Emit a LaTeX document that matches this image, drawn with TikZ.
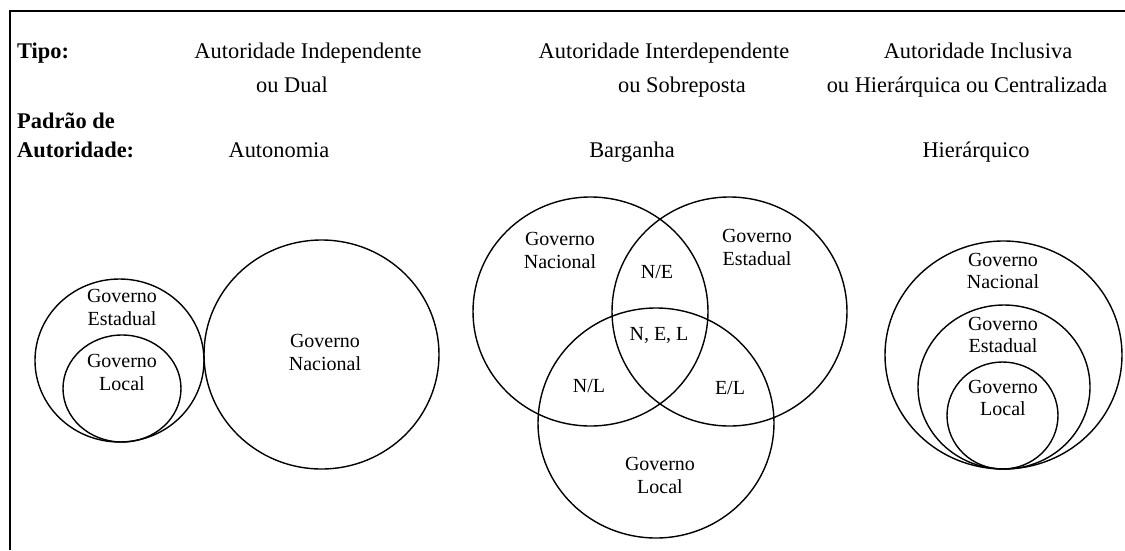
\documentclass[tikz,border=0pt]{standalone}
\usepackage{fontspec}
\setmainfont{Liberation Serif}
\begin{document}
\begin{tikzpicture}[x=1pt,y=-1pt,
  hdr/.style={font=\fontsize{22.4}{26}\selectfont, inner sep=0pt, anchor=base},
  hdrb/.style={font=\fontsize{22.4}{26}\selectfont\bfseries, inner sep=0pt, anchor=base west},
  lbl/.style={font=\fontsize{20}{23}\selectfont, inner sep=0pt, anchor=base},
  ring/.style={draw, line width=1.4pt},
  frame/.style={draw, line width=1.4pt}]
\useasboundingbox (0,0) rectangle (1125,550);
\draw[frame] (10,550) -- (10,11) -- (1125,11);

% headers
\node[hdrb] (tipo) at (17,58) {Tipo:};
\node[hdrb] (padrao) at (17,128) {Padrão de};
\node[hdrb] (autoridade) at (17,157) {Autoridade:};

\node[hdr] (t1a) at (308,58) {Autoridade Independente};
\node[hdr] (t1b) at (292,92) {ou Dual};
\node[hdr] (p1) at (279,157) {Autonomia};

\node[hdr] (t2a) at (664,58) {Autoridade Interdependente};
\node[hdr] (t2b) at (682,92) {ou Sobreposta};
\node[hdr] (p2) at (632,157) {Barganha};

\node[hdr] (t3a) at (978,58) {Autoridade Inclusiva};
\node[hdr] (t3b) at (967,92) {ou Hierárquica ou Centralizada};
\node[hdr] (p3) at (976,157) {Hierárquico};

% left group: autonomy
\draw[ring] (119.5,360.5) ellipse [x radius=84.5pt, y radius=81.5pt];
\draw[ring] (122,388.5) ellipse [x radius=59pt, y radius=53.5pt];
\draw[ring] (321.5,354.5) ellipse [x radius=117.5pt, y radius=114.5pt];
\node[lbl] (le1) at (122,302) {Governo};
\node[lbl] (le2) at (122,325) {Estadual};
\node[lbl] (ll1) at (122,367) {Governo};
\node[lbl] (ll2) at (122,390) {Local};
\node[lbl] (ln1) at (325,347) {Governo};
\node[lbl] (ln2) at (325,370) {Nacional};

% middle group: Venn
\draw[ring] (590.5,311.5) ellipse [x radius=117.5pt, y radius=114.5pt];
\draw[ring] (729.5,311.5) ellipse [x radius=117.5pt, y radius=114.5pt];
\draw[ring] (656,423) ellipse [x radius=118pt, y radius=115pt];
\node[lbl] (mn1) at (560,245) {Governo};
\node[lbl] (mn2) at (560,268) {Nacional};
\node[lbl] (me1) at (757,242) {Governo};
\node[lbl] (me2) at (757,265) {Estadual};
\node[lbl] (mne) at (657,278) {N/E};
\node[lbl] (mnel) at (659,340) {N, E, L};
\node[lbl] (mnl) at (589,392) {N/L};
\node[lbl] (mel) at (730,394) {E/L};
\node[lbl] (ml1) at (660,470) {Governo};
\node[lbl] (ml2) at (660,493) {Local};

% right group: hierarchy
\draw[ring] (1003.5,355) ellipse [x radius=118.5pt, y radius=114pt];
\draw[ring] (1004,387) ellipse [x radius=86pt, y radius=82pt];
\draw[ring] (1002.5,415.5) ellipse [x radius=55.5pt, y radius=53.5pt];
\node[lbl] (rn1) at (1003,266) {Governo};
\node[lbl] (rn2) at (1003,288) {Nacional};
\node[lbl] (re1) at (1003,330) {Governo};
\node[lbl] (re2) at (1003,352) {Estadual};
\node[lbl] (rl1) at (1003,393) {Governo};
\node[lbl] (rl2) at (1003,415) {Local};
\end{tikzpicture}
\end{document}
